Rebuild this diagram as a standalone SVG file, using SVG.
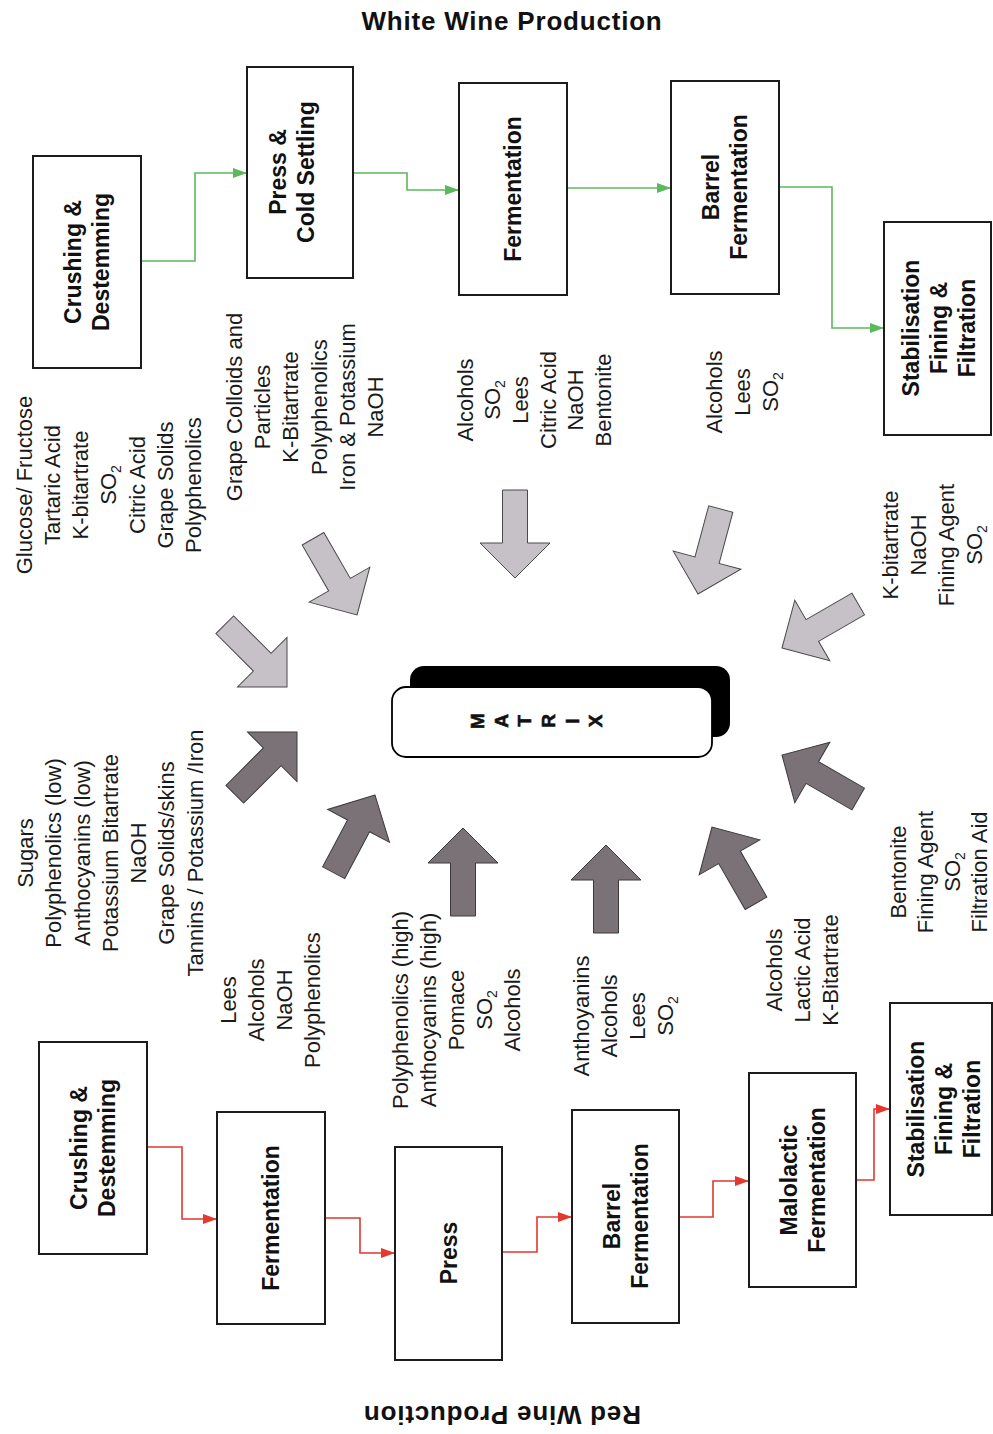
<svg xmlns="http://www.w3.org/2000/svg" xmlns:xlink="http://www.w3.org/1999/xlink" width="993" height="1434" viewBox="0 0 993 1434">
  <style>
    .box { fill: #ffffff; stroke: #1c1c1c; stroke-width: 2; }
    .lbl { font-family: "Liberation Sans", Arial, sans-serif; font-weight: bold; font-size: 23px; fill: #111; text-anchor: middle; }
    .txt { font-family: "Liberation Sans", Arial, sans-serif; font-size: 22px; fill: #1a1a1a; text-anchor: middle; }
    .sub { font-size: 14px; }
    .title { font-family: "Liberation Sans", Arial, sans-serif; font-weight: bold; font-size: 26px; letter-spacing: 0.8px; fill: #111; text-anchor: middle; }
    .mx { font-family: "Liberation Sans", Arial, sans-serif; font-weight: bold; font-size: 19px; fill: #111; stroke: #111; stroke-width: 0.6; text-anchor: middle; }
    .green { fill: none; stroke: #5cb85c; stroke-width: 1.6; marker-end: url(#headGreen); }
    .red { fill: none; stroke: #e2382f; stroke-width: 1.6; marker-end: url(#headRed); }
    .light { fill: #c6c1c6; stroke: #4a4a4a; stroke-width: 1; }
    .dark { fill: #7b7278; stroke: #3a3a3a; stroke-width: 1; }
  </style>
  <defs>
    <marker id="headGreen" markerUnits="userSpaceOnUse" markerWidth="14" markerHeight="10" refX="14" refY="5" orient="auto">
      <path d="M0,0 L14,5 L0,10 Z" fill="#5cb85c"/>
    </marker>
    <marker id="headRed" markerUnits="userSpaceOnUse" markerWidth="14" markerHeight="10" refX="14" refY="5" orient="auto">
      <path d="M0,0 L14,5 L0,10 Z" fill="#e2382f"/>
    </marker>
    <!-- block arrow, tip at the origin, pointing along +x -->
    <path id="blockArrow" d="M0,0 L-35,-35 L-35,-12.5 L-88,-12.5 L-88,12.5 L-35,12.5 L-35,35 Z"/>
  </defs>

  <rect width="993" height="1434" fill="#ffffff"/>

  <!-- titles -->
  <text class="title" x="512" y="30">White Wine Production</text>
  <text class="title" x="502" y="1424" transform="rotate(180 502 1415)">Red Wine Production</text>

  <!-- process flow connectors -->
  <g id="connectors">
    <polyline class="green" points="141,261 195,261 195,173 247,173"/>
    <polyline class="green" points="353,173 407,173 407,190 459,190"/>
    <polyline class="green" points="567,188 671,188"/>
    <polyline class="green" points="779,187 832,187 832,328 884,328"/>
    <polyline class="red" points="147,1147 182,1147 182,1219 217,1219"/>
    <polyline class="red" points="325,1218 360,1218 360,1253 395,1253"/>
    <polyline class="red" points="502,1252 537,1252 537,1217 572,1217"/>
    <polyline class="red" points="679,1217 713,1217 713,1181 749,1181"/>
    <polyline class="red" points="856,1180 874,1180 874,1109 890,1109"/>
  </g>

  <!-- white wine steps -->
  <g id="w-crush">
    <rect class="box" x="33" y="156" width="108" height="212"/>
    <text class="lbl" transform="translate(81 262) rotate(-90)"><tspan x="0" y="0">Crushing &amp;</tspan><tspan x="0" y="28">Destemming</tspan></text>
  </g>
  <g id="w-press">
    <rect class="box" x="247" y="67" width="106" height="211"/>
    <text class="lbl" transform="translate(286 172) rotate(-90)"><tspan x="0" y="0">Press &amp;</tspan><tspan x="0" y="28">Cold Settling</tspan></text>
  </g>
  <g id="w-ferment">
    <rect class="box" x="459" y="83" width="108" height="212"/>
    <text class="lbl" transform="translate(521 189) rotate(-90)"><tspan x="0" y="0">Fermentation</tspan></text>
  </g>
  <g id="w-barrel">
    <rect class="box" x="671" y="81" width="108" height="213"/>
    <text class="lbl" transform="translate(719 187) rotate(-90)"><tspan x="0" y="0">Barrel</tspan><tspan x="0" y="28">Fermentation</tspan></text>
  </g>
  <g id="w-stab">
    <rect class="box" x="884" y="222" width="107" height="213"/>
    <text class="lbl" transform="translate(919 328) rotate(-90)"><tspan x="0" y="0">Stabilisation</tspan><tspan x="0" y="28">Fining &amp;</tspan><tspan x="0" y="56">Filtration</tspan></text>
  </g>

  <!-- red wine steps -->
  <g id="r-crush">
    <rect class="box" x="39" y="1042" width="108" height="212"/>
    <text class="lbl" transform="translate(87 1148) rotate(-90)"><tspan x="0" y="0">Crushing &amp;</tspan><tspan x="0" y="28">Destemming</tspan></text>
  </g>
  <g id="r-ferment">
    <rect class="box" x="217" y="1112" width="108" height="212"/>
    <text class="lbl" transform="translate(279 1218) rotate(-90)"><tspan x="0" y="0">Fermentation</tspan></text>
  </g>
  <g id="r-press">
    <rect class="box" x="395" y="1147" width="107" height="213"/>
    <text class="lbl" transform="translate(457 1253) rotate(-90)"><tspan x="0" y="0">Press</tspan></text>
  </g>
  <g id="r-barrel">
    <rect class="box" x="572" y="1110" width="107" height="213"/>
    <text class="lbl" transform="translate(620 1216) rotate(-90)"><tspan x="0" y="0">Barrel</tspan><tspan x="0" y="28">Fermentation</tspan></text>
  </g>
  <g id="r-malo">
    <rect class="box" x="749" y="1073" width="107" height="214"/>
    <text class="lbl" transform="translate(797 1180) rotate(-90)"><tspan x="0" y="0">Malolactic</tspan><tspan x="0" y="28">Fermentation</tspan></text>
  </g>
  <g id="r-stab">
    <rect class="box" x="890" y="1003" width="102" height="212"/>
    <text class="lbl" transform="translate(924 1109) rotate(-90)"><tspan x="0" y="0">Stabilisation</tspan><tspan x="0" y="28">Fining &amp;</tspan><tspan x="0" y="56">Filtration</tspan></text>
  </g>

  <!-- central matrix -->
  <g id="matrix">
    <rect x="410" y="666" width="320" height="71" rx="14" fill="#000000"/>
    <rect x="392" y="687" width="320" height="70" rx="14" fill="#ffffff" stroke="#000000" stroke-width="1.8"/>
    <g class="mx">
      <text transform="translate(484 721) rotate(-90)">M</text>
      <text transform="translate(507.5 721) rotate(-90)">A</text>
      <text transform="translate(531 721) rotate(-90)">T</text>
      <text transform="translate(555 721) rotate(-90)">R</text>
      <text transform="translate(578.5 721) rotate(-90)">I</text>
      <text transform="translate(602 721) rotate(-90)">X</text>
    </g>
  </g>

  <!-- white wine inputs (light arrows) -->
  <g id="w-inputs">
    <use xlink:href="#blockArrow" class="light" transform="translate(287 687) rotate(45)"/>
    <use xlink:href="#blockArrow" class="light" transform="translate(357 615) rotate(60)"/>
    <use xlink:href="#blockArrow" class="light" transform="translate(515 578) rotate(90)"/>
    <use xlink:href="#blockArrow" class="light" transform="translate(698 594) rotate(105)"/>
    <use xlink:href="#blockArrow" class="light" transform="translate(782 648) rotate(150)"/>
  </g>

  <!-- red wine inputs (dark arrows) -->
  <g id="r-inputs">
    <use xlink:href="#blockArrow" class="dark" transform="translate(297 732) rotate(-45)"/>
    <use xlink:href="#blockArrow" class="dark" transform="translate(375 795) rotate(-62)"/>
    <use xlink:href="#blockArrow" class="dark" transform="translate(463 828) rotate(-90)"/>
    <use xlink:href="#blockArrow" class="dark" transform="translate(606 845) rotate(-90)"/>
    <use xlink:href="#blockArrow" class="dark" transform="translate(712 827) rotate(-120)"/>
    <use xlink:href="#blockArrow" class="dark" transform="translate(782 755) rotate(-150)"/>
  </g>

  <!-- white wine compound lists -->
  <g id="w-list-crush" class="txt" transform="translate(32 485) rotate(-90)">
    <text y="0">Glucose/ Fructose</text>
    <text y="28">Tartaric Acid</text>
    <text y="56">K-bitartrate</text>
    <text y="84">SO<tspan class="sub" dy="5">2</tspan></text>
    <text y="113">Citric Acid</text>
    <text y="141">Grape Solids</text>
    <text y="169">Polyphenolics</text>
  </g>
  <g id="w-list-press" class="txt" transform="translate(242 407) rotate(-90)">
    <text y="0">Grape Colloids and</text>
    <text y="28">Particles</text>
    <text y="56">K-Bitartrate</text>
    <text y="85">Polyphenolics</text>
    <text y="113">Iron &amp; Potassium</text>
    <text y="141">NaOH</text>
  </g>
  <g id="w-list-ferment" class="txt" transform="translate(473 400) rotate(-90)">
    <text y="0">Alcohols</text>
    <text y="27">SO<tspan class="sub" dy="5">2</tspan></text>
    <text y="55">Lees</text>
    <text y="83">Citric Acid</text>
    <text y="110">NaOH</text>
    <text y="138">Bentonite</text>
  </g>
  <g id="w-list-barrel" class="txt" transform="translate(722 392) rotate(-90)">
    <text y="0">Alcohols</text>
    <text y="28">Lees</text>
    <text y="56">SO<tspan class="sub" dy="5">2</tspan></text>
  </g>
  <g id="w-list-stab" class="txt" transform="translate(898 545) rotate(-90)">
    <text y="0">K-bitartrate</text>
    <text y="28">NaOH</text>
    <text y="56">Fining Agent</text>
    <text y="84">SO<tspan class="sub" dy="5">2</tspan></text>
  </g>

  <!-- red wine compound lists -->
  <g id="r-list-crush" class="txt" transform="translate(33 853) rotate(-90)">
    <text y="0">Sugars</text>
    <text y="28">Polyphenolics (low)</text>
    <text y="57">Anthocyanins (low)</text>
    <text y="85">Potassium Bitartrate</text>
    <text y="113">NaOH</text>
    <text y="141">Grape Solids/skins</text>
    <text y="170">Tannins / Potassium /Iron</text>
  </g>
  <g id="r-list-ferment" class="txt" transform="translate(236 1000) rotate(-90)">
    <text y="0">Lees</text>
    <text y="28">Alcohols</text>
    <text y="56">NaOH</text>
    <text y="84">Polyphenolics</text>
  </g>
  <g id="r-list-press" class="txt" transform="translate(408 1010) rotate(-90)">
    <text y="0">Polyphenolics (high)</text>
    <text y="28">Anthocyanins (high)</text>
    <text y="56">Pomace</text>
    <text y="84">SO<tspan class="sub" dy="5">2</tspan></text>
    <text y="112">Alcohols</text>
  </g>
  <g id="r-list-barrel" class="txt" transform="translate(589 1016) rotate(-90)">
    <text y="0">Anthoyanins</text>
    <text y="28">Alcohols</text>
    <text y="56">Lees</text>
    <text y="84">SO<tspan class="sub" dy="5">2</tspan></text>
  </g>
  <g id="r-list-malo" class="txt" transform="translate(782 970) rotate(-90)">
    <text y="0">Alcohols</text>
    <text y="28">Lactic Acid</text>
    <text y="56">K-Bitartrate</text>
  </g>
  <g id="r-list-stab" class="txt" transform="translate(906 872) rotate(-90)">
    <text y="0">Bentonite</text>
    <text y="27">Fining Agent</text>
    <text y="54">SO<tspan class="sub" dy="5">2</tspan></text>
    <text y="81">Filtration Aid</text>
  </g>
</svg>
